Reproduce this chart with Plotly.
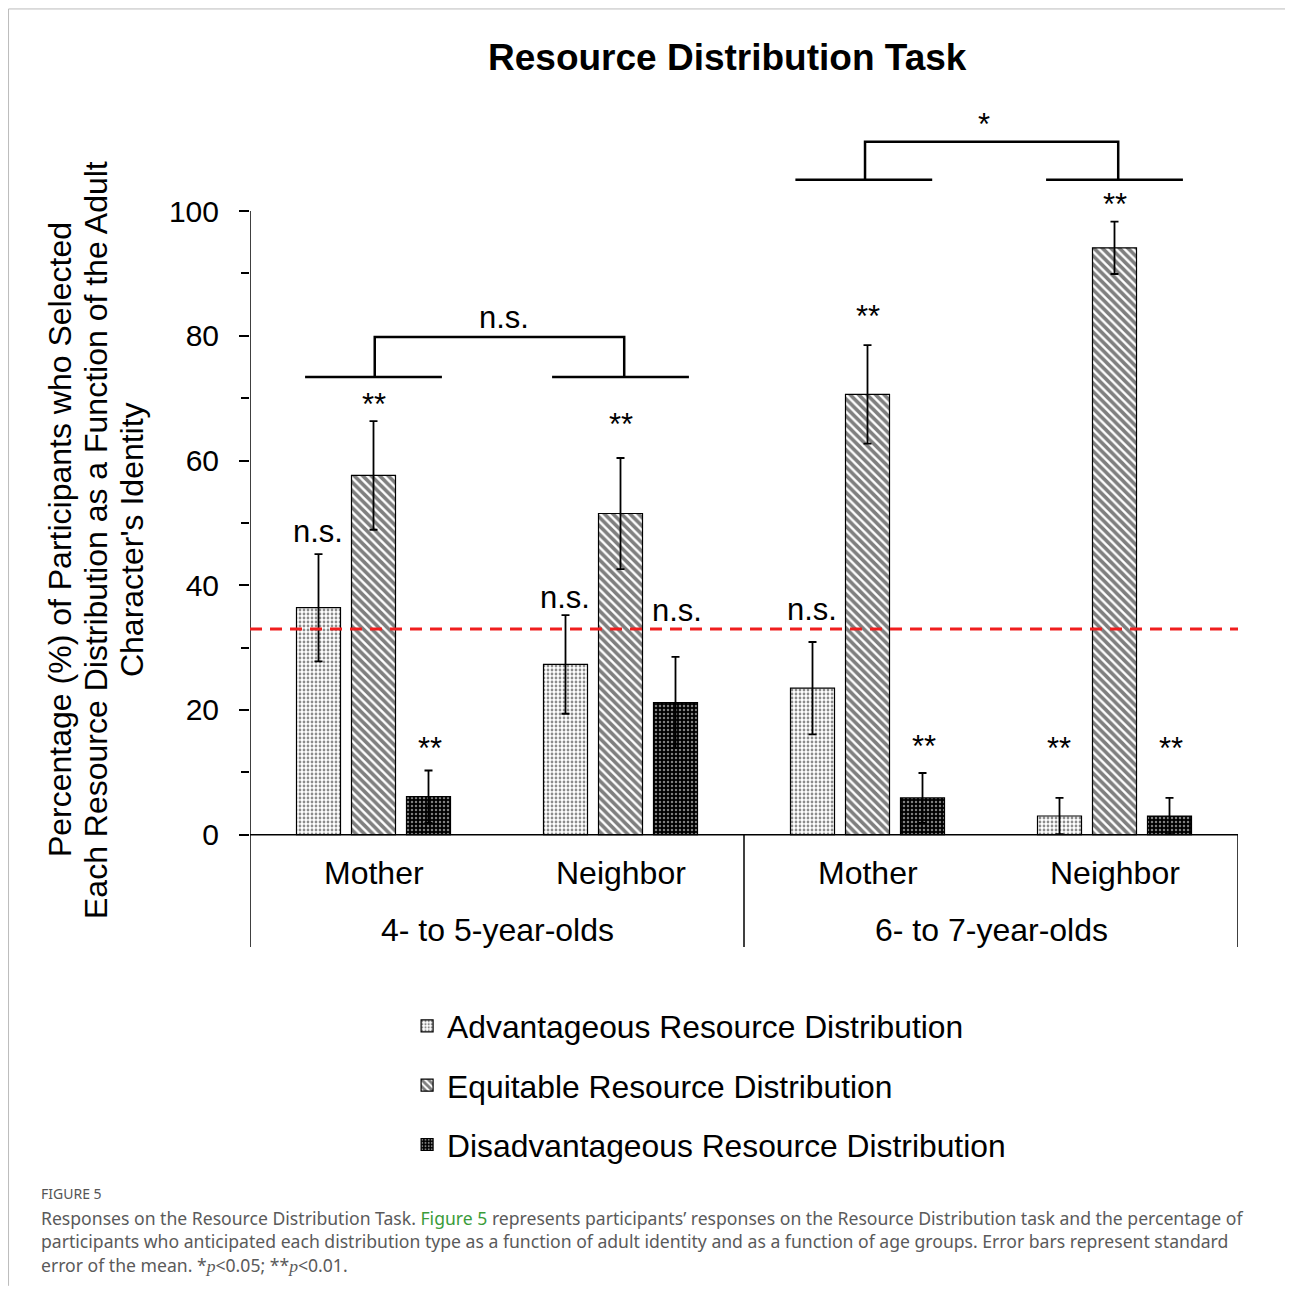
import plotly.graph_objects as go

# ---------------- data ----------------
categories = ["Mother", "Neighbor", "Mother", "Neighbor"]
age_groups = ["4- to 5-year-olds", "6- to 7-year-olds"]
series_names = ["Advantageous Resource Distribution",
                "Equitable Resource Distribution",
                "Disadvantageous Resource Distribution"]
advantageous = [36.4, 27.3, 23.5, 3.0]
equitable = [57.6, 51.5, 70.6, 94.1]
disadvantageous = [6.1, 21.2, 5.9, 3.0]
adv_err = [8.6, 7.9, 7.4, 2.9]
eq_err = [8.7, 8.9, 7.9, 4.2]
dis_err = [4.2, 7.3, 4.0, 2.9]
chance_level = 33.0
sig_labels = [["n.s.", "**", "**"], ["n.s.", "**", "n.s."],
              ["n.s.", "**", "**"], ["**", "**", "**"]]
y_ticks = [0, 20, 40, 60, 80, 100]
y_minor = [10, 30, 50, 70, 90]

# ---------------- layout helpers ----------------
FONT = "Arial, Liberation Sans, sans-serif"
x_pos = list(range(len(categories)))
OFF = 0.2227  # offset between bars within a group (from bargap settings)

fig = go.Figure()
patterns = [
    dict(shape=".", bgcolor="white", fgcolor="#1a1a1a", size=4, solidity=0.38),
    dict(shape="\\", bgcolor="white", fgcolor="black", size=6, solidity=0.6),
    dict(shape=".", bgcolor="black", fgcolor="white", size=4, solidity=0.3),
]
values = [advantageous, equitable, disadvantageous]
errs = [adv_err, eq_err, dis_err]
for i in range(3):
    fig.add_trace(go.Bar(
        x=x_pos, y=values[i], name=series_names[i], legendgroup=str(i),
        marker=dict(color="white", pattern=patterns[i],
                    line=dict(color="black", width=1.2)),
        error_y=dict(type="data", array=errs[i], color="black",
                     thickness=1.8, width=4),
    ))

shapes = []
BL = dict(color="black", width=1.5)
# y axis line (continues down as left divider)
shapes.append(dict(type="line", xref="x", yref="y", x0=-0.5, x1=-0.5, y0=-18, y1=100, line=BL))
# x axis line
shapes.append(dict(type="line", xref="x", yref="y", x0=-0.5, x1=3.5, y0=0, y1=0, line=BL))
# group dividers
for xd in [1.5, 3.5]:
    shapes.append(dict(type="line", xref="x", yref="y", x0=xd, x1=xd, y0=-18, y1=0, line=BL))
# chance line
shapes.append(dict(type="line", xref="x", yref="y", x0=-0.5, x1=3.5, y0=chance_level, y1=chance_level,
                   line=dict(color="#F01E1E", width=3, dash="12px,8px")))
# brackets
BRK = dict(color="black", width=2.5)
def bracket(xa, xb, ylow, yhigh, half=0.277):
    out = []
    for xc in (xa, xb):
        out.append(dict(type="line", xref="x", yref="y", x0=xc - half, x1=xc + half,
                        y0=ylow, y1=ylow, line=BRK))
    out.append(dict(type="path", xref="x", yref="y",
                    path=f"M {xa+0.005},{ylow} L {xa+0.005},{yhigh} L {xb+0.015},{yhigh} L {xb+0.015},{ylow}",
                    line=BRK))
    return out
shapes += bracket(0, 1, 73.4, 79.8)
shapes += bracket(1.985, 3.0, 105.0, 111.1)

# frame border around figure
shapes.append(dict(type="path", xref="paper", yref="paper",
                   path="M -0.2444,-0.4 L -0.2444,1.1075 L 1.0513,1.1075 L 1.0513,-0.4",
                   line=dict(color="#BBBBBB", width=1)))

annotations = []
def txt(x, y, text, size=32, xref="x", yref="y", **kw):
    d = dict(x=x, y=y, xref=xref, yref=yref, text=text, showarrow=False,
             xanchor=kw.pop("xanchor", "center"), yanchor=kw.pop("yanchor", "middle"),
             font=dict(family=kw.pop("family", FONT), size=size, color=kw.pop("color", "black")))
    d.update(kw)
    annotations.append(d)

# significance labels positions (text centre)
sig_y = [[48.6, 68.9, 13.8], [38.0, 65.7, 35.9], [36.1, 83.1, 14.1], [13.8, 101.1, 13.8]]
for c in range(4):
    for s in range(3):
        txt(c + (s - 1) * OFF + (0.006 if s == 2 else 0), sig_y[c][s], sig_labels[c][s], size=31)
txt(0.53, 82.9, "n.s.", size=31)
txt(2.47, 113.8, "*", size=31)
# category labels
for c in range(4):
    txt(c, -6.1, categories[c])
for g in range(2):
    txt(0.5 + 2 * g, -15.2, age_groups[g])
txt(1.5, -21.6, "Age Group")
# y axis title (three lines)
ytitle = ["Percentage (%) of Participants who Selected",
          "Each Resource Distribution as a Function of the Adult",
          "Character's Identity"]
for k, xp in enumerate([-0.1923, -0.1559, -0.1194]):
    txt(xp, 0.4805, ytitle[k], xref="paper", yref="paper", textangle=-90)
# chart title
txt(0.4828, 1.0496, "<b>Resource Distribution Task</b>", size=37, xref="paper", yref="paper")
# caption
CAP = "Noto Sans, Open Sans, sans-serif"
txt(-0.2135, -0.2916, "FIGURE 5", size=14, xref="paper", yref="paper", xanchor="left",
    family=CAP, color="#555555")
cap_lines = [
    "Responses on the Resource Distribution Task. <span style='color:#3a9c3a'>Figure 5</span> represents participants\u2019 responses on the Resource Distribution task and the percentage of",
    "participants who anticipated each distribution type as a function of adult identity and as a function of age groups. Error bars represent standard",
    "error of the mean. *<i style='font-family:Liberation Serif'>p</i>&lt;0.05; **<i style='font-family:Liberation Serif'>p</i>&lt;0.01.",
]
for k, yp in enumerate([-0.3200, -0.3471, -0.3754]):
    txt(-0.2135, yp, cap_lines[k], size=17.6, xref="paper", yref="paper", xanchor="left",
        family=CAP, color="#5a5a5a")

fig.update_layout(
    width=1277, height=1284,
    margin=dict(l=242, r=47, t=92, b=345),
    paper_bgcolor="white", plot_bgcolor="white",
    barmode="group", bargap=0.332, bargroupgap=0.2,
    showlegend=True,
    legend=dict(x=0.159, y=-0.061, xanchor="left", yanchor="top",
                font=dict(family=FONT, size=31.8, color="black"),
                tracegroupgap=15, bgcolor="rgba(0,0,0,0)"),
    xaxis=dict(range=[-0.5, 3.5], visible=False),
    yaxis=dict(range=[-18, 117.8], tickvals=y_ticks, ticks="outside", ticklen=10,
               tickwidth=1.5, tickcolor="black", showline=False, zeroline=False,
               showgrid=False, ticklabelstandoff=14,
               tickfont=dict(family=FONT, size=30, color="black"),
               minor=dict(tickvals=y_minor, ticks="outside", ticklen=8, tickwidth=1.5,
                          tickcolor="black", showgrid=False)),
    shapes=shapes, annotations=annotations,
)

fig.write_html("out.html")
